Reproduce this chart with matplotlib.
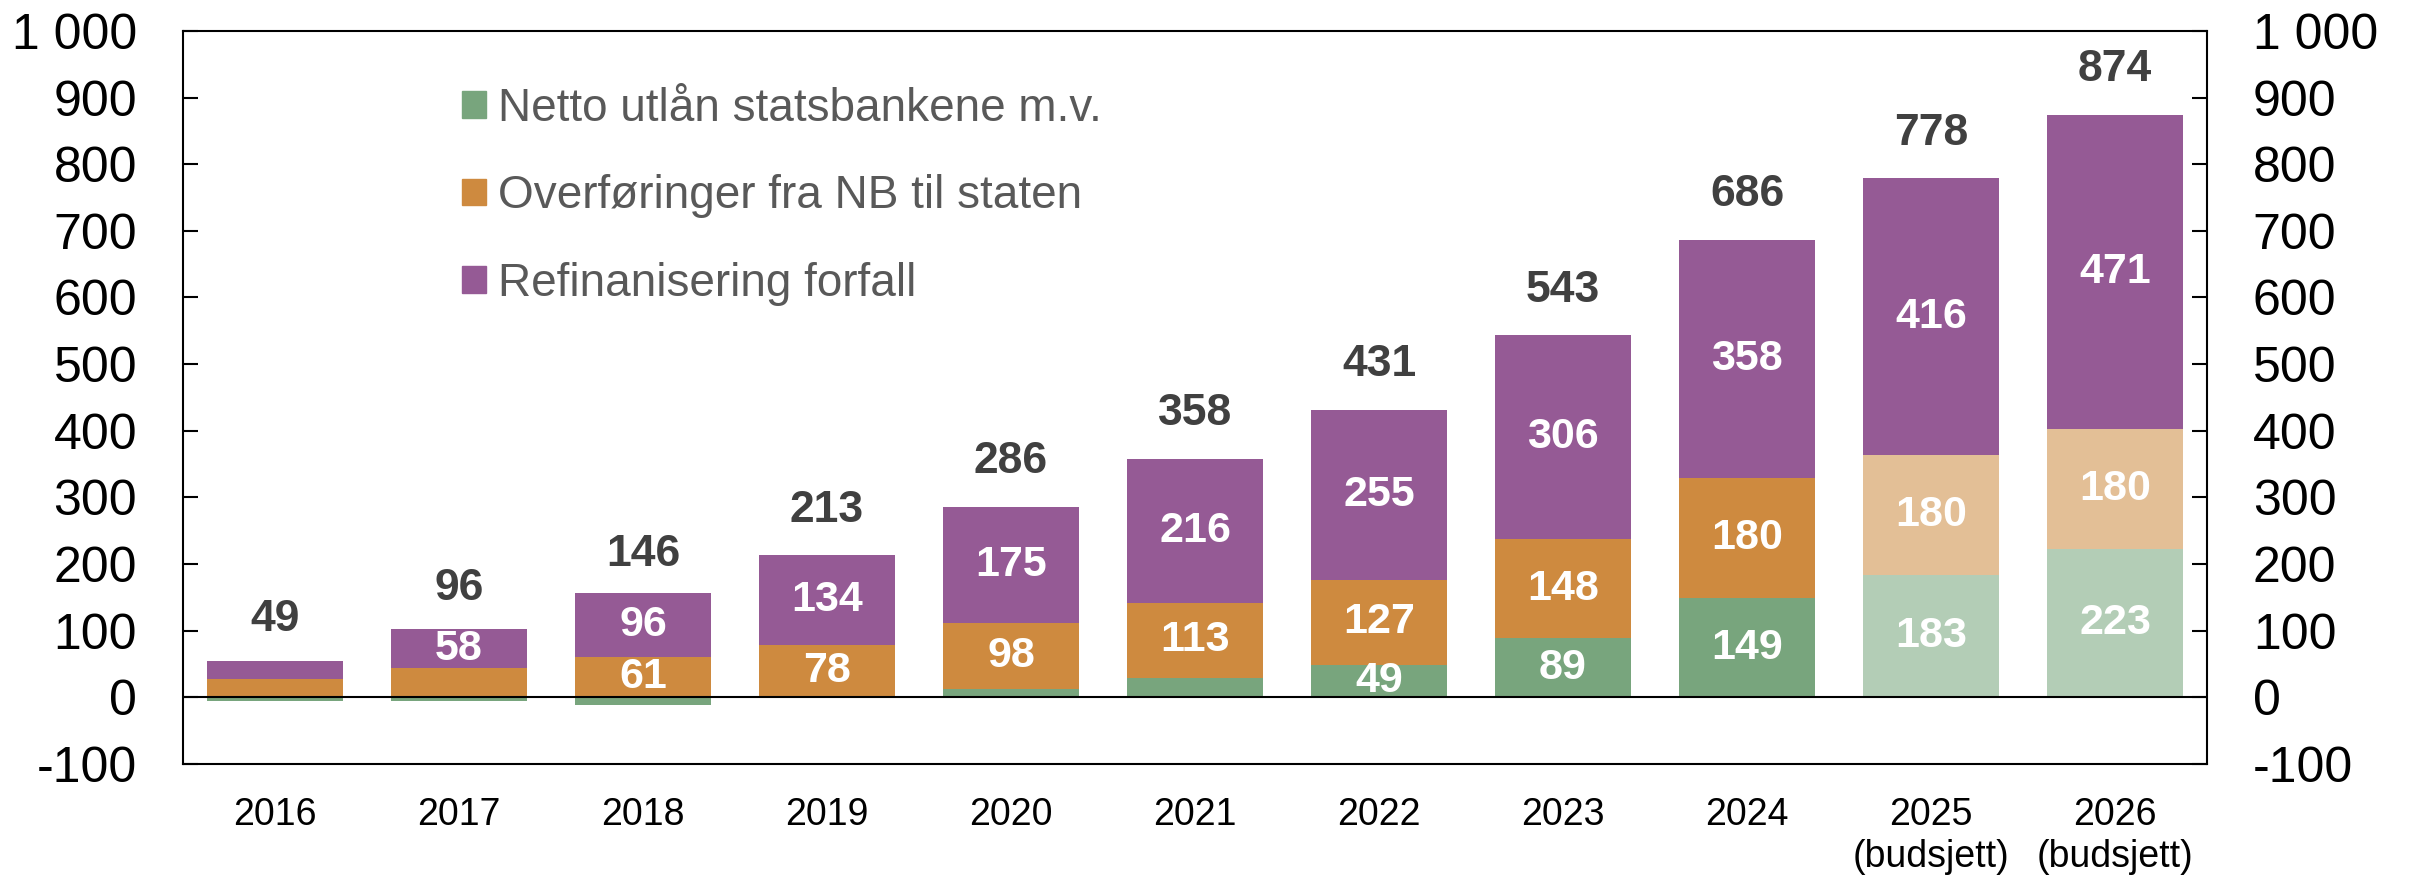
import numpy as np
import matplotlib
matplotlib.use('Agg')
import matplotlib.pyplot as plt
from matplotlib.ticker import FuncFormatter, MultipleLocator
from matplotlib.patches import Patch

plt.rcParams['font.family'] = ['Liberation Sans', 'DejaVu Sans']

years = ['2016', '2017', '2018', '2019', '2020', '2021', '2022', '2023', '2024',
         '2025\n(budsjett)', '2026\n(budsjett)']
netto_utlan = [-6, -6, -11, 1, 13, 29, 49, 89, 149, 183, 223]
overforinger = [27, 44, 61, 78, 98, 113, 127, 148, 180, 180, 180]
refinansiering = [28, 58, 96, 134, 175, 216, 255, 306, 358, 416, 471]
totals = [49, 96, 146, 213, 286, 358, 431, 543, 686, 778, 874]
budget = [False] * 9 + [True, True]

labels = ['Netto utlån statsbankene m.v.', 'Overføringer fra NB til staten',
          'Refinanisering forfall']

green, green_l = '#78A57D', '#B3CDB6'
orange, orange_l = '#CE8A3F', '#E3BF96'
purple = '#955A95'

x = np.arange(len(years))
g = np.array(netto_utlan)
o = np.array(overforinger)
p = np.array(refinansiering)

fig = plt.figure(figsize=(24.11, 8.76), dpi=100)
ax = fig.add_axes([0.0759, 0.1279, 0.8395, 0.8368])

w = 0.74
gcol = [green_l if b else green for b in budget]
ocol = [orange_l if b else orange for b in budget]
o_bottom = np.maximum(g, 0)
p_bottom = o_bottom + o

ax.bar(x, g, w, color=gcol, zorder=2)
ax.bar(x, o, w, bottom=o_bottom, color=ocol, zorder=2)
ax.bar(x, p, w, bottom=p_bottom, color=purple, zorder=2)
ax.axhline(0, color='black', lw=1.5, zorder=3)

# labels inside segments
for vals, bottoms in [(g, np.zeros_like(g)), (o, o_bottom), (p, p_bottom)]:
    for xi, v, b in zip(x, vals, bottoms):
        if v >= 45:
            ax.text(xi, b + v / 2, f'{v}', ha='center', va='center',
                    color='white', fontsize=31, fontweight='bold', zorder=4)

# totals above bars
for xi, t in zip(x, totals):
    ax.text(xi, t + 68, f'{t}', ha='center', va='center',
            color='#404040', fontsize=32, fontweight='bold')

ax.set_xlim(-0.5, 10.5)
ax.set_ylim(-100, 1000)
ax.yaxis.set_major_locator(MultipleLocator(100))
ax.yaxis.set_major_formatter(FuncFormatter(lambda v, pos: f'{v:,.0f}'.replace(',', ' ')))
ax.set_xticks(x)
ax.set_xticklabels(years)
ax.tick_params(axis='x', length=0, pad=24, labelsize=27)
ax.tick_params(axis='y', direction='in', length=11, width=1.5, pad=33,
               labelsize=36, right=True, labelright=True)
for s in ax.spines.values():
    s.set_linewidth(1.5)

handles = [Patch(color=c) for c in (green, orange, purple)]
leg = ax.legend(handles, labels, loc='upper left', bbox_to_anchor=(0.138, 0.924),
                frameon=False, fontsize=33, handlelength=0.52, handleheight=0.52,
                handletextpad=0.26, labelspacing=0.95, borderpad=0, borderaxespad=0)
for t in leg.get_texts():
    t.set_color('#595959')

fig.savefig('out.png', dpi=100)
